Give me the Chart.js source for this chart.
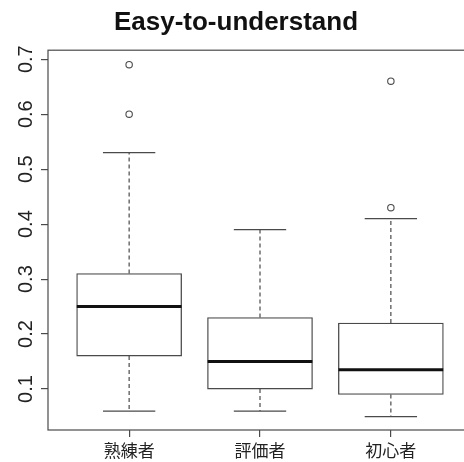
<!DOCTYPE html>
<html>
<head>
<meta charset="utf-8">
<script src="https://cdn.jsdelivr.net/npm/chart.js@4"></script>
<style>
  html, body { margin: 0; padding: 0; background: #fff; overflow: hidden; }
  #wrap { width: 464px; height: 462px; overflow: hidden; }
  #wrap canvas { display: block; }
</style>
</head>
<body>
<div id="wrap">
  <canvas id="chartBox" width="480" height="462" style="width:480px;height:462px"></canvas>
</div>
<script>
// Dados do boxplot
const categorias = ['熟練者', '評価者', '初心者'];
const bigodeInf = [0.06, 0.06, 0.05];
const quartil1 = [0.16, 0.10, 0.09];
const mediana = [0.25, 0.15, 0.135];
const quartil3 = [0.31, 0.23, 0.22];
const bigodeSup = [0.53, 0.39, 0.41];
const outliers = [[0.60, 0.69], [], [0.43, 0.66]];
const yTicks = [0.1, 0.2, 0.3, 0.4, 0.5, 0.6, 0.7];

const posicoes = categorias.map((c, i) => i + 1);
const corLinha = '#4a4a4a';

// Bigodes, medianas, moldura e rótulos do eixo y
const boxPlugin = {
    id: 'boxExtras',
    afterDatasetsDraw(chart) {
        const ctx = chart.ctx;
        const x = chart.scales.x;
        const y = chart.scales.y;
        ctx.save();
        posicoes.forEach((p, i) => {
            const cx = x.getPixelForValue(p);
            const meiaCaixa = (x.getPixelForValue(p + 0.4) - x.getPixelForValue(p - 0.4)) / 2;
            const meiaTampa = meiaCaixa / 2;

            // linhas tracejadas
            ctx.strokeStyle = corLinha;
            ctx.lineWidth = 1.2;
            ctx.setLineDash([4, 3]);
            ctx.beginPath();
            ctx.moveTo(cx, y.getPixelForValue(quartil3[i]));
            ctx.lineTo(cx, y.getPixelForValue(bigodeSup[i]));
            ctx.moveTo(cx, y.getPixelForValue(quartil1[i]));
            ctx.lineTo(cx, y.getPixelForValue(bigodeInf[i]));
            ctx.stroke();

            // tampas
            ctx.setLineDash([]);
            ctx.beginPath();
            ctx.moveTo(cx - meiaTampa, y.getPixelForValue(bigodeSup[i]));
            ctx.lineTo(cx + meiaTampa, y.getPixelForValue(bigodeSup[i]));
            ctx.moveTo(cx - meiaTampa, y.getPixelForValue(bigodeInf[i]));
            ctx.lineTo(cx + meiaTampa, y.getPixelForValue(bigodeInf[i]));
            ctx.stroke();

            // mediana
            ctx.strokeStyle = '#111';
            ctx.lineWidth = 3;
            ctx.beginPath();
            ctx.moveTo(cx - meiaCaixa, y.getPixelForValue(mediana[i]));
            ctx.lineTo(cx + meiaCaixa, y.getPixelForValue(mediana[i]));
            ctx.stroke();
        });

        // moldura
        const a = chart.chartArea;
        ctx.strokeStyle = corLinha;
        ctx.lineWidth = 1.2;
        ctx.strokeRect(a.left, a.top, a.right - a.left, a.bottom - a.top);

        // rótulos do eixo y girados (estilo R)
        ctx.fillStyle = '#222';
        ctx.font = '20px "Liberation Sans", Arial, sans-serif';
        ctx.textAlign = 'center';
        ctx.textBaseline = 'alphabetic';
        yTicks.forEach(v => {
            ctx.save();
            ctx.translate(32, y.getPixelForValue(v));
            ctx.rotate(-Math.PI / 2);
            ctx.fillText(v.toFixed(1), 0, 0);
            ctx.restore();
        });
        ctx.restore();
    }
};

const ctxBox = document.getElementById('chartBox').getContext('2d');
new Chart(ctxBox, {
    type: 'bar',
    data: {
        datasets: [
            {
                label: 'caixa',
                data: posicoes.map((p, i) => ({ x: p, y: [quartil1[i], quartil3[i]] })),
                backgroundColor: '#ffffff',
                borderColor: corLinha,
                borderWidth: 1.3,
                borderSkipped: false,
                barThickness: 105,
                order: 2
            },
            {
                type: 'scatter',
                label: 'outliers',
                data: outliers.flatMap((lista, i) => lista.map(v => ({ x: posicoes[i], y: v }))),
                pointStyle: 'circle',
                pointRadius: 3.2,
                pointBorderWidth: 1.1,
                pointBorderColor: corLinha,
                pointBackgroundColor: '#ffffff',
                order: 1
            }
        ]
    },
    options: {
        responsive: false,
        animation: false,
        events: [],
        layout: { padding: { left: 0, right: 8, top: 0, bottom: 0 } },
        plugins: {
            legend: { display: false },
            tooltip: { enabled: false },
            title: {
                display: true,
                text: 'Easy-to-understand',
                color: '#111',
                font: { family: '"Liberation Sans", Arial, sans-serif', size: 26, weight: 'bold' },
                padding: { top: 7, bottom: 12 }
            }
        },
        scales: {
            x: {
                type: 'linear',
                min: 0.38,
                max: 3.62,
                offset: false,
                afterBuildTicks: (scale) => { scale.ticks = posicoes.map(v => ({ value: v })); },
                afterFit: (scale) => { scale.height = 32; },
                border: { display: false },
                grid: { offset: false, drawOnChartArea: false, tickLength: 7, color: corLinha, lineWidth: 1.2 },
                ticks: {
                    color: '#222',
                    padding: 3,
                    maxRotation: 0,
                    autoSkip: false,
                    font: { family: '"Noto Sans CJK JP", sans-serif', size: 17 },
                    callback: (v) => categorias[v - 1]
                }
            },
            y: {
                min: 0.0255,
                max: 0.7164,
                afterBuildTicks: (scale) => { scale.ticks = yTicks.map(v => ({ value: v })); },
                afterFit: (scale) => { scale.width = 48; },
                border: { display: false },
                grid: { drawOnChartArea: false, tickLength: 7, color: corLinha, lineWidth: 1.2 },
                ticks: { display: false }
            }
        }
    },
    plugins: [boxPlugin]
});
</script>
</body>
</html>
